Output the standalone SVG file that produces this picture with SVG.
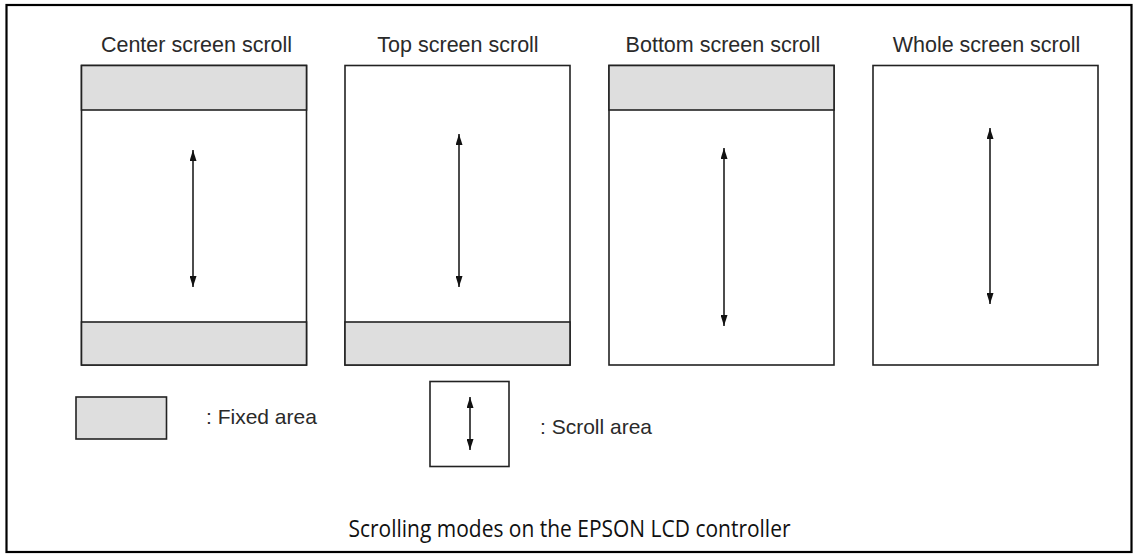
<svg xmlns="http://www.w3.org/2000/svg" width="1138" height="558" viewBox="0 0 1138 558">
<style>
.box{fill:#fff;stroke:#222;stroke-width:1.6}
.fixed{fill:#dedede;stroke:#222;stroke-width:1.6}
.arr{stroke:#111;stroke-width:1.5;fill:none;marker-start:url(#ah);marker-end:url(#ah)}
.title{font-family:"Liberation Sans",Arial,sans-serif;font-size:21.5px;fill:#2a2a2a;text-anchor:middle}
.lg{font-family:"Liberation Sans",Arial,sans-serif;font-size:21px;fill:#2a2a2a}
.cap{font-family:"Open Sans","Noto Sans",sans-serif;font-size:23px;fill:#111}
</style>
<defs>
<marker id="ah" viewBox="0 0 11 7" refX="11" refY="3.5" markerWidth="11" markerHeight="7" markerUnits="userSpaceOnUse" orient="auto-start-reverse">
<path d="M0,0 L11,3.5 L0,7 z" fill="#111"/>
</marker>
</defs>
<rect x="0" y="0" width="1138" height="558" fill="#fff"/>
<rect id="frame" x="6.5" y="5" width="1125" height="547" fill="none" stroke="#000" stroke-width="2.2"/>

<g id="center">
<text class="title" x="196.5" y="52">Center screen scroll</text>
<rect class="box" x="81.5" y="65.5" width="225" height="299.5"/>
<rect class="fixed" x="81.5" y="65.5" width="225" height="44.5"/>
<rect class="fixed" x="81.5" y="322" width="225" height="43"/>
</g>
<g id="top">
<text class="title" x="458" y="52">Top screen scroll</text>
<rect class="box" x="345" y="65.5" width="225" height="299.5"/>
<rect class="fixed" x="345" y="322" width="225" height="43"/>
</g>
<g id="bottom">
<text class="title" x="723" y="52">Bottom screen scroll</text>
<rect class="box" x="609" y="65.5" width="225" height="299.5"/>
<rect class="fixed" x="609" y="65.5" width="225" height="44.5"/>
</g>
<g id="whole">
<text class="title" x="986.5" y="52">Whole screen scroll</text>
<rect class="box" x="873" y="65.5" width="225" height="299.5"/>
</g>

<g id="legend-fixed">
<rect class="fixed" x="76" y="397" width="90.5" height="42"/>
<text class="lg" x="206" y="424">: Fixed area</text>
</g>
<g id="legend-scroll">
<rect class="box" x="430" y="381.5" width="79" height="85"/>
<text class="lg" x="540" y="434">: Scroll area</text>
</g>

<g id="connectors">
<line class="arr" x1="193" y1="150" x2="193" y2="287"/>
<line class="arr" x1="459" y1="134" x2="459" y2="287"/>
<line class="arr" x1="724" y1="148" x2="724" y2="326"/>
<line class="arr" x1="990" y1="128" x2="990" y2="304"/>
<line class="arr" x1="470" y1="397" x2="470" y2="450"/>
</g>

<text id="caption" class="cap" x="569.5" y="537" text-anchor="middle" textLength="442" lengthAdjust="spacingAndGlyphs">Scrolling modes on the EPSON LCD controller</text>
</svg>
